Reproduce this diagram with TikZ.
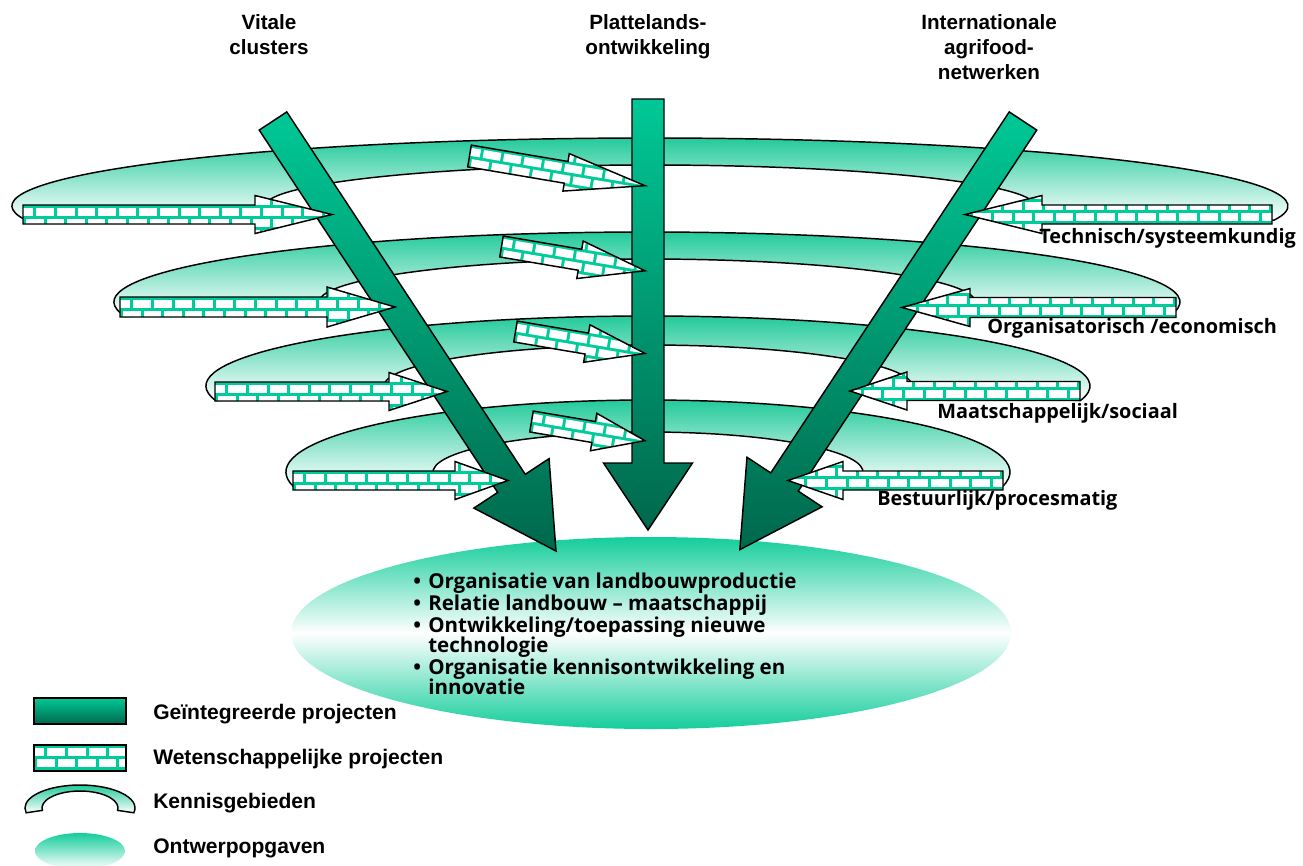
\documentclass[tikz,border=0pt]{standalone}
\usepackage{fontspec}
\setmainfont{Liberation Sans}
\newfontfamily\humfont{Open Sans}
\usetikzlibrary{calc}

\definecolor{gbright}{RGB}{0,200,150}
\definecolor{gdark}{RGB}{0,104,76}
\definecolor{mortar}{RGB}{0,204,153}
\definecolor{ringgreen}{RGB}{25,200,150}
\definecolor{ovalgreen}{RGB}{20,205,155}

\tikzset{
  outline/.style={draw=black, line width=1.1pt, line join=miter},
  projshade/.style={top color=gbright, bottom color=gdark},
  ringshade/.style={top color=ringgreen, bottom color=white},
  ovalshade/.style={top color=ovalgreen, bottom color=ovalgreen, middle color=white},
  headtext/.style={font=\bfseries\fontsize{15.5}{18.75}\selectfont, inner sep=0pt, anchor=base},
  areatext/.style={font=\humfont\bfseries\fontsize{14.9}{18}\selectfont, inner sep=0pt, anchor=base west},
  tasktext/.style={font=\humfont\bfseries\fontsize{15.4}{15}\selectfont, inner sep=0pt, anchor=base west},
  keytext/.style={font=\bfseries\fontsize{15.8}{19}\selectfont, inner sep=0pt, anchor=base west},
}

% white bricks with green joints; #1 top edge of the shaft, #2 length to cover
\newcommand{\bricks}[2]{%
  \foreach \j in {-2,...,3}{%
    \pgfmathsetmacro{\bry}{#1+2.7+11*(\j)}%
    \pgfmathsetmacro{\brx}{mod(\j+5,2)*10.3+3}%
    \pgfmathtruncatemacro{\brn}{#2/20.6+1}%
    \foreach \i in {-1,...,\brn}{%
      \fill[white] ({\brx+20.6*\i},\bry) -- ++(17.6,0) -- ++(0,8) -- ++(-17.6,0) -- cycle;
    }}}

% brick-filled block arrow: #1,#2 centre of the back edge, #3 rotation,
% #4 length, #5 shaft half width, #6 head length, #7 head half width, #8 name
\newcommand{\brickarrow}[8]{%
  \begin{scope}[shift={(#1,#2)}, rotate=#3]
    \coordinate (#8) at (0,0);
    \fill[mortar] (0,-#5) -- ({#4-#6},-#5) -- ({#4-#6},-#7) -- (#4,0) -- ({#4-#6},#7) -- ({#4-#6},#5) -- (0,#5) -- cycle;
    \begin{scope}
      \clip (0,-#5) -- ({#4-#6},-#5) -- ({#4-#6},-#7) -- (#4,0) -- ({#4-#6},#7) -- ({#4-#6},#5) -- (0,#5) -- cycle;
      \bricks{-#5}{#4}
    \end{scope}
    \draw[outline] (0,-#5) -- ({#4-#6},-#5) -- ({#4-#6},-#7) -- (#4,0) -- ({#4-#6},#7) -- ({#4-#6},#5) -- (0,#5) -- cycle;
  \end{scope}}

% shaded block arrow for the integrated projects (same parameters)
\newcommand{\projarrow}[8]{%
  \begin{scope}[shift={(#1,#2)}, rotate=#3]
    \coordinate (#8) at (0,0);
    \path[projshade, outline] (0,-#5) -- ({#4-#6},-#5) -- ({#4-#6},-#7) -- (#4,0) -- ({#4-#6},#7) -- ({#4-#6},#5) -- (0,#5) -- cycle;
  \end{scope}}

% arched band of a knowledge area: #1 name, #2,#3 centre, #4,#5 outer radii, #6,#7 inner radii
\newcommand{\areaband}[7]{%
  \coordinate (#1) at (#2,#3);
  \path[ringshade, outline] ($(#1)+(168:#4 and #5)$)
    arc[start angle=168, end angle=372, x radius=#4, y radius=#5]
    -- ($(#1)+(8:#6 and #7)$)
    arc[start angle=8, end angle=-188, x radius=#6, y radius=#7] -- cycle;}

\newcommand{\taskitem}[1]{\hangindent=11.25pt\hangafter=1\noindent\hbox to 11.25pt{\textbullet\hfil}#1\par}

\begin{document}
\begin{tikzpicture}[x=0.75pt, y=-0.75pt]
\useasboundingbox (0,0) rectangle (1303,865);

% knowledge areas
\areaband{ring1}{650}{206}{638}{68}{385}{41}
\areaband{ring2}{647}{302}{533}{70}{328}{43}
\areaband{ring3}{648}{386}{442}{70}{264}{41}
\areaband{ring4}{648}{472}{362}{72}{215}{40}

% design tasks
\coordinate (oval) at (651,633);
\path[ovalshade] (oval) ellipse [x radius=360, y radius=96];

% integrated projects
\projarrow{273}{121}{-56.65}{514.8}{16.5}{81}{45}{vital}
\projarrow{648}{99}{-90}{431}{16}{67}{44.5}{rural}
\projarrow{1023}{121}{-123.45}{513.7}{16.5}{81}{45}{agri}

% scientific projects, left
\brickarrow{23}{214.5}{0}{309}{9.5}{77}{19}{wl1}
\brickarrow{120}{307}{0}{275}{10}{68}{20}{wl2}
\brickarrow{215}{391.5}{0}{232}{9.5}{58}{19}{wl3}
\brickarrow{293}{480.5}{0}{215}{9.5}{53}{19}{wl4}
% scientific projects, right
\brickarrow{1272}{214.5}{180}{307}{9.5}{77}{19}{wr1}
\brickarrow{1176}{307.5}{180}{274}{10}{68}{19}{wr2}
\brickarrow{1080}{391}{180}{230}{9.5}{57}{19}{wr3}
\brickarrow{1003}{480.5}{180}{215}{9.5}{55}{19}{wr4}
% scientific projects, centre
\brickarrow{469.5}{156}{-9.6}{178}{11}{80}{19}{wm1}
\brickarrow{501.5}{246.5}{-9.6}{145.6}{10.6}{66}{19}{wm2}
\brickarrow{515.5}{331.5}{-9.6}{131.3}{10.6}{59}{19}{wm3}
\brickarrow{531.5}{421.5}{-9.6}{115}{10.6}{52}{19}{wm4}

% column headings
\node[headtext] (vitale) at (269,29.5) {\begin{tabular}[t]{@{}c@{}}Vitale\\clusters\end{tabular}};
\node[headtext] (platteland) at (648,29.5) {\begin{tabular}[t]{@{}c@{}}Plattelands-\\ontwikkeling\end{tabular}};
\node[headtext] (internationaal) at (989,29.5) {\begin{tabular}[t]{@{}c@{}}Internationale\\agrifood-\\netwerken\end{tabular}};

% knowledge area names
\node[areatext] (techn) at (1039,243) {Technisch/systeemkundig};
\node[areatext] (organ) at (987,333) {Organisatorisch /economisch};
\node[areatext] (maatsch) at (937,418) {Maatschappelijk/sociaal};
\node[areatext] (bestuur) at (877,505) {Bestuurlijk/procesmatig};

% design tasks
\node[tasktext] (tasks) at (413,588) {\vtop{\hsize=330pt\parindent=0pt\parskip=1.6pt\baselineskip=15pt\lineskiplimit=-10pt\rightskip=0pt plus 1fil
  \taskitem{Organisatie van landbouwproductie}
  \taskitem{Relatie landbouw – maatschappij}
  \taskitem{Ontwikkeling/toepassing nieuwe\newline technologie}
  \taskitem{Organisatie kennisontwikkeling en\newline innovatie}}};

% legend
\path[projshade, outline] (34,698) rectangle (126,724);
\fill[mortar] (34,745) rectangle (126,771);
\begin{scope}
  \clip (34,745) rectangle (126,771);
  \begin{scope}[shift={(34,745)}]
    \bricks{0}{92}
  \end{scope}
\end{scope}
\draw[outline] (34,745) rectangle (126,771);
\areaband{keyring}{80}{808}{55}{23}{38}{17}
\coordinate (keyoval) at (80,851);
\path[top color=ovalgreen, bottom color=white] (keyoval) ellipse [x radius=45, y radius=18];

\node[keytext] (k1) at (153,719) {Geïntegreerde projecten};
\node[keytext] (k2) at (153,764) {Wetenschappelijke projecten};
\node[keytext] (k3) at (153,808) {Kennisgebieden};
\node[keytext] (k4) at (153,853) {Ontwerpopgaven};
\end{tikzpicture}
\end{document}
